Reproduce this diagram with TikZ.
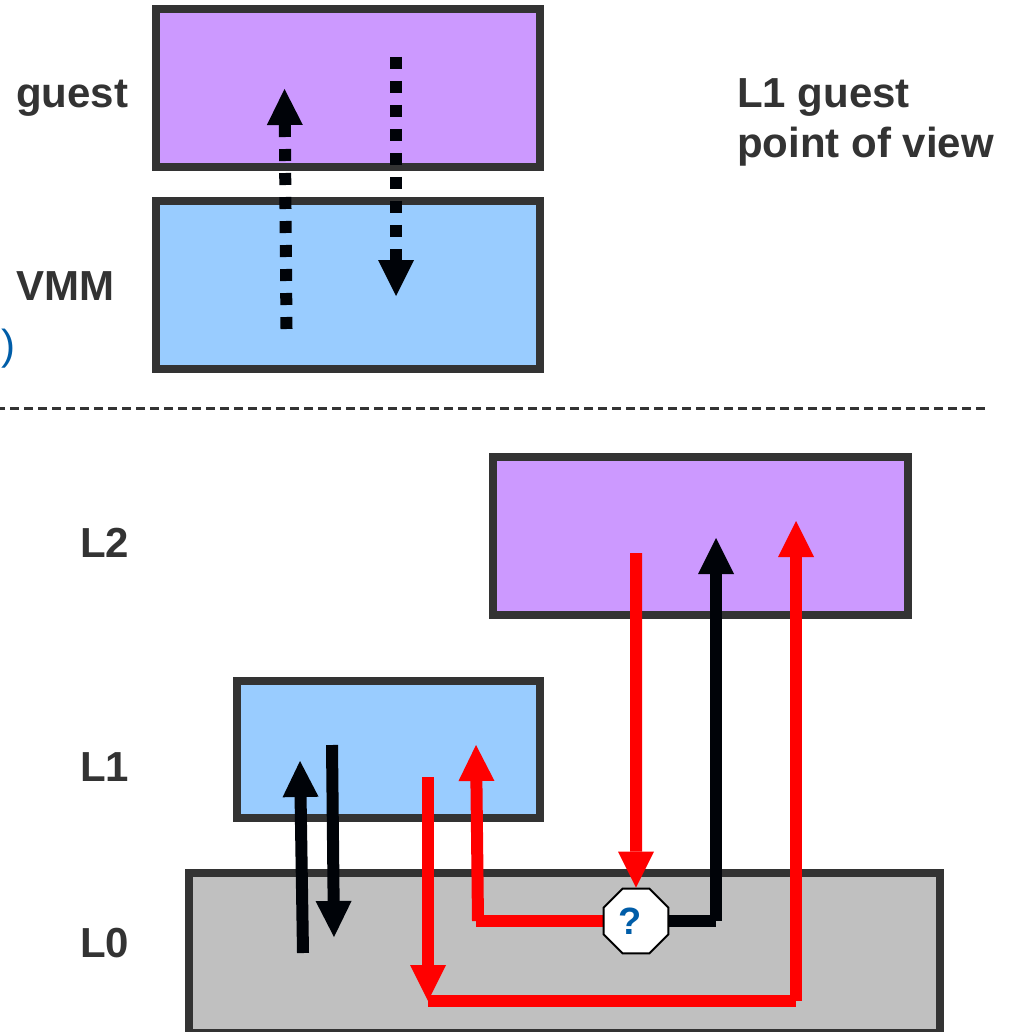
\documentclass[tikz,border=0pt]{standalone}
\usepackage{fontspec}
\setmainfont{Liberation Sans}
\usetikzlibrary{arrows.meta,shapes.geometric}
\definecolor{edge}{HTML}{333333}
\definecolor{purplebox}{HTML}{CC99FF}
\definecolor{bluebox}{HTML}{99CCFF}
\definecolor{greybox}{HTML}{C0C0C0}
\definecolor{inkblack}{HTML}{000308}
\definecolor{redline}{HTML}{FF0000}
\definecolor{linkblue}{HTML}{005DA8}
\tikzset{
  layerbox/.style={draw=edge,line width=8pt,inner sep=0pt},
  lab/.style={text=edge,font=\fontsize{42}{50}\selectfont\bfseries,anchor=base west,inner sep=0pt,align=left},
  bigtip/.style={-{Triangle[length=36pt,width=36pt,line width=0pt]}},
  flow/.style={line width=12pt,line cap=butt},
  dots/.style={flow,inkblack,bigtip,dash pattern=on 12pt off 12pt},
  blackflow/.style={flow,inkblack},
  redflow/.style={flow,redline},
  octa/.style={regular polygon,regular polygon sides=8,draw=black,line width=2pt,fill=white,minimum size=70pt,inner sep=0pt,text=linkblue,font=\fontsize{38}{38}\selectfont\bfseries},
  divider/.style={edge,line width=2.5pt,dash pattern=on 8.5pt off 5.5pt,dash phase=4pt}
}
\begin{document}
\begin{tikzpicture}[x=1pt,y=-1pt]
\useasboundingbox (0,0) rectangle (1009,1032);
% boxes
\node[layerbox,fill=purplebox,minimum width=384pt,minimum height=158pt] (guestbox) at (348,88) {};
\node[layerbox,fill=bluebox,minimum width=384pt,minimum height=168pt] (vmmbox) at (348,285) {};
\node[layerbox,fill=purplebox,minimum width=415pt,minimum height=158pt] (ltwo) at (700.5,536) {};
\node[layerbox,fill=bluebox,minimum width=303pt,minimum height=137pt] (lone) at (388.5,749.5) {};
\node[layerbox,fill=greybox,minimum width=751pt,minimum height=160pt] (lzero) at (564.5,953) {};
% labels
\node[lab] (tguest) at (16,108) {guest};
\node[lab] (tvmm) at (16,300) {VMM};
\node[lab] (tview) at (737,158) {L1 guest\\point of view};
\node[lab] (tltwo) at (80,557) {L2};
\node[lab] (tlone) at (80,781) {L1};
\node[lab] (tlzero) at (80,957) {L0};
\node[anchor=base west,inner sep=0pt,text=linkblue,font=\fontsize{42}{50}\selectfont] (paren) at (1,359) {)};
% divider
\coordinate (divl) at (0,408.5);
\coordinate (divr) at (985,408.5);
\draw[divider] (divl) -- (divr);
% dotted arrows
\coordinate (da) at (286.5,329);
\coordinate (db) at (284.5,89);
\coordinate (dc) at (396,57);
\coordinate (dd) at (396,296);
\draw[dots] (da) -- (db);
\draw[dots] (dc) -- (dd);
% solid black arrows left
\coordinate (ba) at (303,953);
\coordinate (bb) at (300,761);
\coordinate (bc) at (332,745);
\coordinate (bd) at (334,937);
\draw[blackflow,bigtip] (ba) -- (bb);
\draw[blackflow,bigtip] (bc) -- (bd);
% octagon route
\coordinate (oct) at (636,921);
\coordinate (rstart) at (636,553);
\coordinate (kleft) at (476,921);
\coordinate (kleftv) at (478,921);
\coordinate (ltip) at (476,745);
\coordinate (kright) at (716,921);
\coordinate (btip) at (716,538);
\draw[redflow] (oct) -- (kleft);
\draw[redflow,bigtip] (kleftv) -- (ltip);
\draw[blackflow] (oct) -- (kright);
\draw[blackflow,bigtip] (kright) -- (btip);
\node[octa] (q) at (oct) {?\kern12pt};
\draw[redflow,bigtip] (rstart) -- (q.north);
% lower red route
\coordinate (ra) at (428,777);
\coordinate (rb) at (428,1001);
\coordinate (rc) at (796,1001);
\coordinate (rd) at (796,521);
\draw[redflow] (rb) -- (rc);
\draw[redflow,bigtip] (ra) -- (rb);
\draw[redflow,bigtip] (rc) -- (rd);
\end{tikzpicture}
\end{document}
